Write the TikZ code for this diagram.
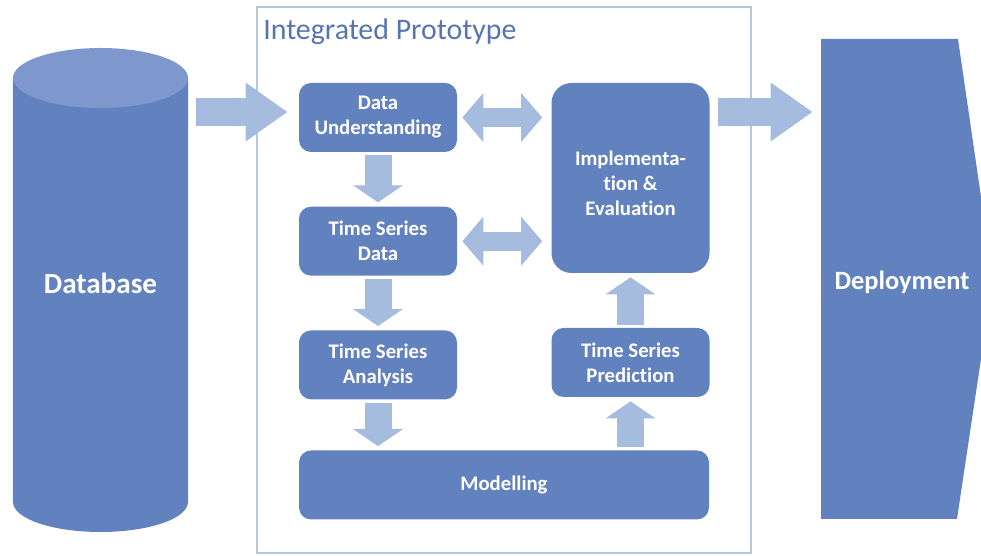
\documentclass[tikz,border=0pt]{standalone}
\usepackage{fontspec}
\setmainfont{Carlito}[Ligatures=NoCommon]
\usetikzlibrary{positioning,arrows.meta}

\definecolor{boxblue}{RGB}{98,129,191}
\definecolor{topblue}{RGB}{126,152,206}
\definecolor{arrowblue}{RGB}{166,188,223}
\definecolor{frameblue}{RGB}{182,199,226}
\definecolor{titleblue}{RGB}{88,116,176}

\tikzset{
  stage/.style={rectangle, rounded corners=0.24cm, fill=boxblue, text=white,
    font=\bfseries\fontsize{11.8}{14.2}\selectfont, align=center,
    minimum width=3.16cm, minimum height=1.38cm, inner sep=0pt},
  bigtext/.style={text=white, font=\bfseries\fontsize{15.5}{18}\selectfont, inner sep=0pt},
  flowarrow/.style={draw=arrowblue, line width=0.54cm,
    -{Triangle[width=0.98cm, length=0.34cm]}, shorten <=0.06cm, shorten >=0.08cm},
  twowayarrow/.style={draw=arrowblue, line width=0.38cm,
    {Triangle[width=0.96cm, length=0.42cm]}-{Triangle[width=0.96cm, length=0.42cm]},
    shorten <=0.1cm, shorten >=0.18cm},
  bigarrow/.style={draw=arrowblue, line width=0.56cm,
    -{Triangle[width=1.12cm, length=0.84cm]}, shorten <=0.16cm},
}

\begin{document}
\begin{tikzpicture}
  \useasboundingbox (0,0) rectangle (19.62,11.12);

  % database cylinder
  \fill[boxblue] (0.26,9.56) -- (0.26,1.08)
    arc[start angle=180, end angle=360, x radius=1.75, y radius=0.6] -- (3.76,9.56) -- cycle;
  \fill[topblue] (2.01,9.56) ellipse [x radius=1.75, y radius=0.6];
  \node (db) [bigtext, font=\bfseries\fontsize{16.6}{18}\selectfont, minimum width=3.5cm, minimum height=8.48cm]
    at (2.01,5.46) {Database};

  % deployment block
  \fill[boxblue] (16.42,10.34) -- (19.16,10.34) -- (19.86,5.54) -- (19.14,0.74) -- (16.42,0.74) -- cycle;
  \node (deploy) [bigtext, font=\bfseries\fontsize{15}{18}\selectfont, minimum width=3.24cm, minimum height=9.6cm]
    at (18.04,5.48) {Deployment};

  % prototype frame
  \node (proto) [draw=frameblue, line width=0.05cm, minimum width=9.88cm, minimum height=10.92cm] at (10.08,5.52) {};
  \node (title) [anchor=base west, text=titleblue, font=\fontsize{17}{20}\selectfont, inner sep=0pt]
    at (5.26,10.32) {Integrated Prototype};

  \node (du) [stage] at (7.56,8.77) {Data\\Understanding};
  \node (tsd) [stage, below=1.08cm of du] {Time Series\\Data};
  \node (tsa) [stage, below=1.08cm of tsd] {Time Series\\Analysis};
  \node (model) [stage, minimum width=8.2cm] at (10.08,1.42) {Modelling};
  \node (impl) [stage, rounded corners=0.4cm, minimum height=3.8cm] at (12.61,7.56)
    {\rule{0pt}{0.5cm}Implementa-\\tion \&\\Evaluation};
  \node (tsp) [stage] at (12.61,3.87) {Time Series\\Prediction};

  \coordinate (feed) at (0,8.88);

  % flow
  \draw[bigarrow, shorten >=0.22cm] (db.east |- feed) -- (du.west |- feed);
  \draw[flowarrow] (du) -- (tsd);
  \draw[flowarrow] (tsd) -- (tsa);
  \draw[flowarrow] (tsa) -- (tsa |- model.north);
  \draw[flowarrow] (model.north -| tsp) -- (tsp);
  \draw[flowarrow] (tsp) -- (impl);
  \draw[twowayarrow] (du) -- (du -| impl.west);
  \draw[twowayarrow] (tsd) -- (tsd -| impl.west);
  \draw[bigarrow, shorten >=0.16cm] (impl.east |- feed) -- (deploy.west |- feed);

\end{tikzpicture}
\end{document}
